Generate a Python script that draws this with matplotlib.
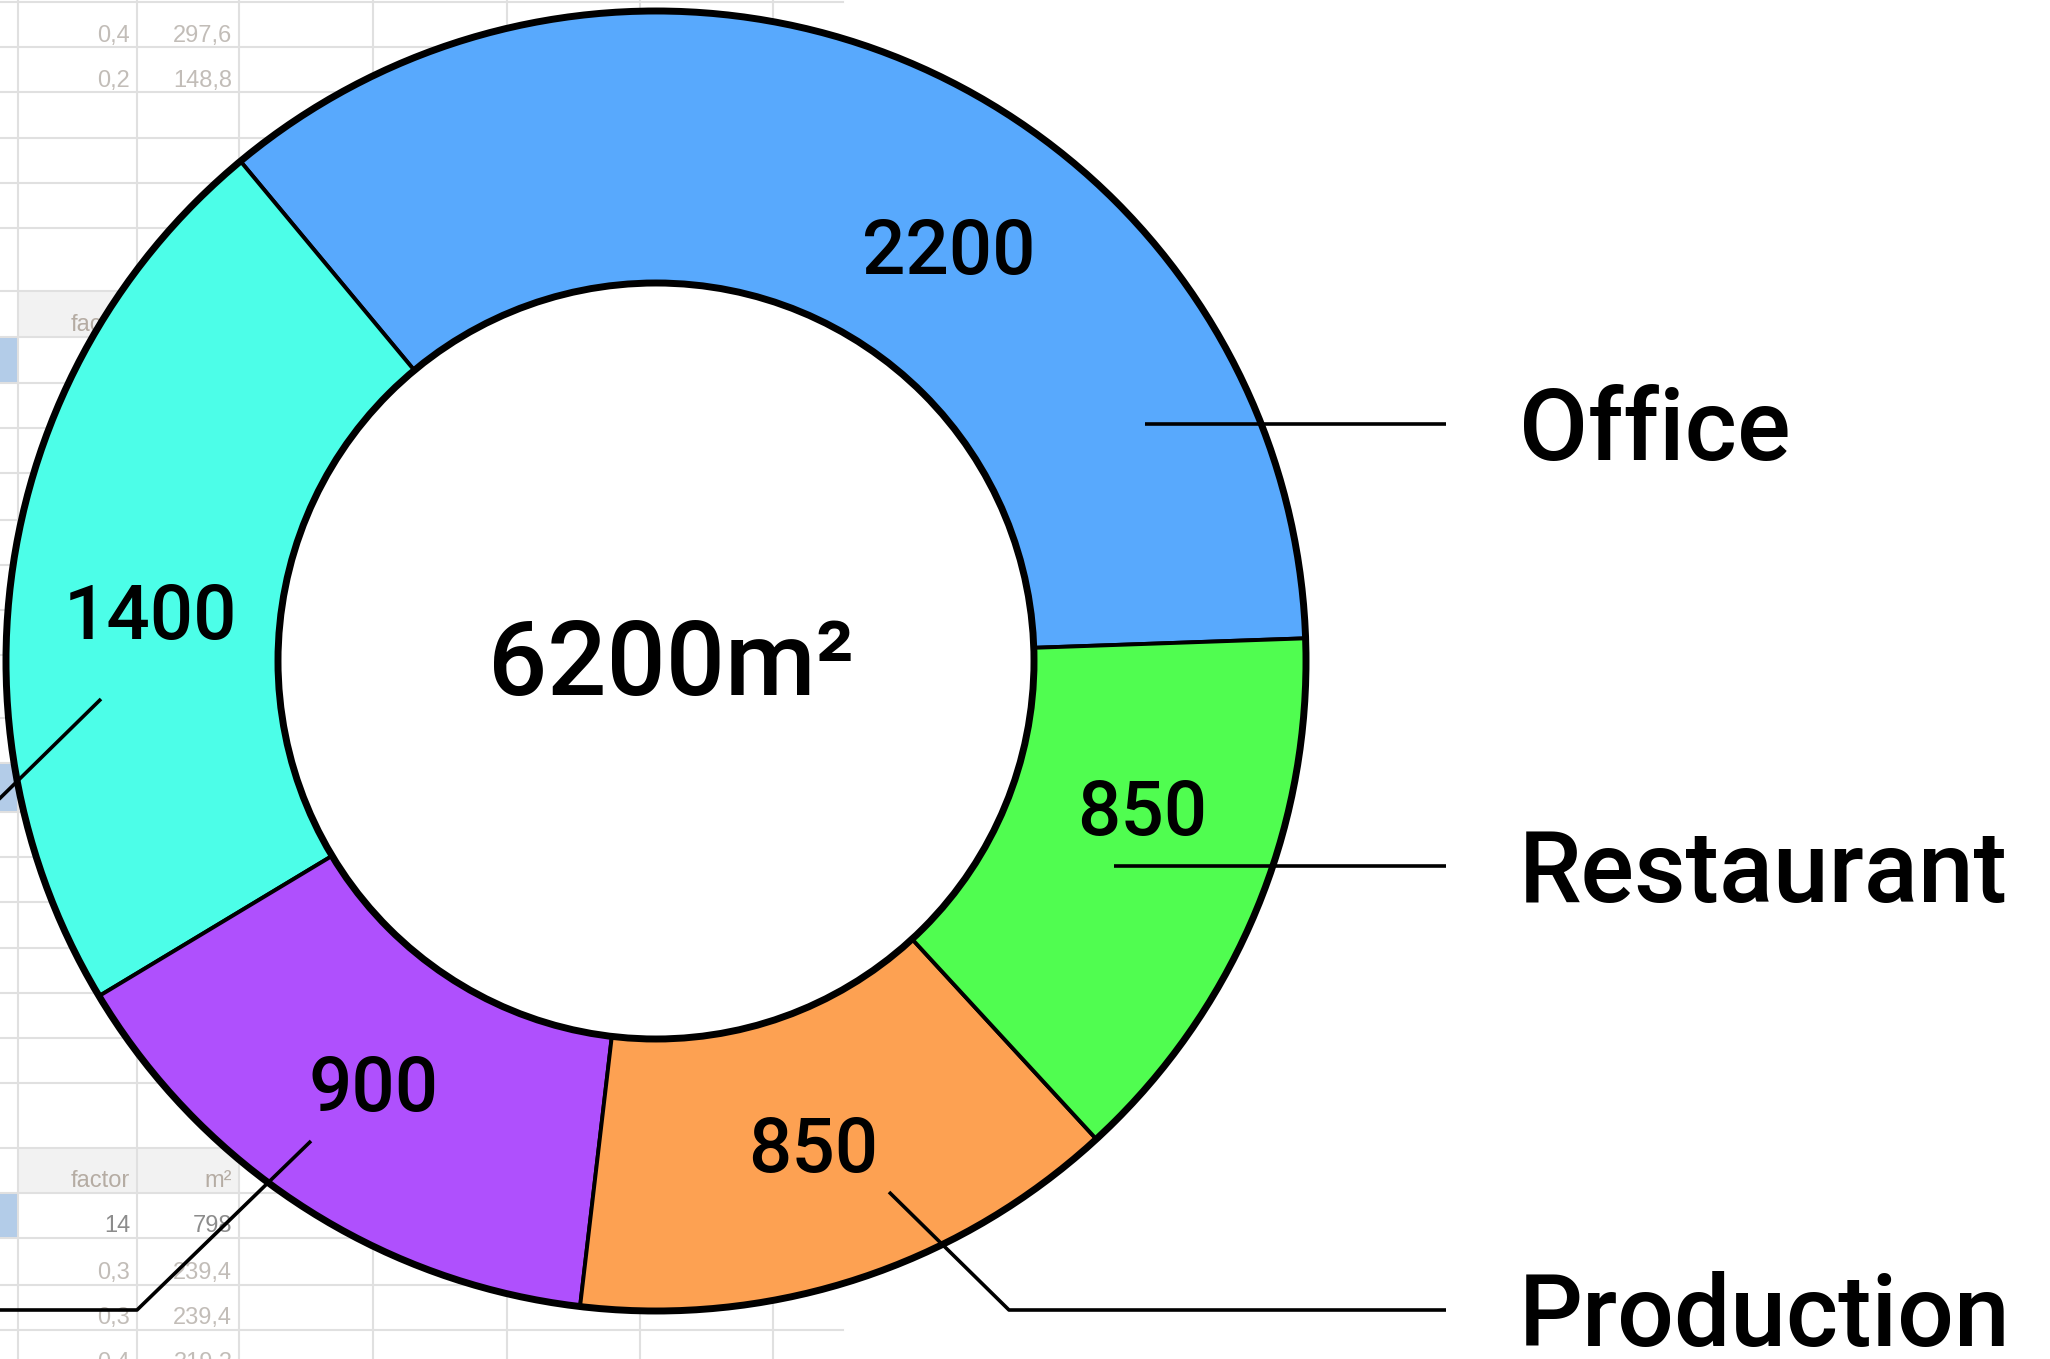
import numpy as np
import matplotlib.pyplot as plt
from matplotlib.patches import Circle, Rectangle

plt.rcParams['font.family'] = 'Roboto'

W, H = 2050, 1359

# floor areas in m², counter-clockwise from the right
areas = [2200, 1400, 900, 850, 850]
names = ['Office', None, None, 'Production', 'Restaurant']
colours = ['#58a9fd', '#4cfee8', '#af50fd', '#fda152', '#50fd50']

# spreadsheet cells sitting behind the chart
top_factor = ['0,4', '0,2']
top_m2 = ['297,6', '148,8']
bottom_header = ['factor', 'm²']
bottom_factor = ['14', '0,3', '0,3', '0,4']
bottom_m2 = ['798', '239,4', '239,4', '319,2']

row_lines = [2, 47, 92, 138, 183, 228, 291, 337, 383, 428, 473, 520, 565, 610,
             655, 718, 763, 812, 857, 902, 948, 993, 1038, 1083, 1148, 1193,
             1238, 1285, 1330, 1375]
col_lines = [18, 137, 239, 373, 507, 640, 773]
sheet_right = 843
header_tops = [291, 718, 1148]
blue_tops = [337, 763, 1193]

# donut geometry (pixels, y pointing down)
cx, cy = 656, 661
R_out, R_in = 650, 378
label_r = 508
label_shift = [11, -4, 1, 0, -6]

fig = plt.figure(figsize=(W / 100, H / 100), dpi=100)
ax = fig.add_axes([0, 0, 1, 1])

# --- spreadsheet background ---
for y0 in header_tops:
    nxt = row_lines[row_lines.index(y0) + 1]
    ax.add_patch(Rectangle((18, y0), 239 - 18, nxt - y0, fc='#f2f2f2', ec='none', zorder=0))
for y0 in blue_tops:
    nxt = row_lines[row_lines.index(y0) + 1]
    ax.add_patch(Rectangle((0, y0), 18, nxt - y0, fc='#b3cce8', ec='none', zorder=0))
for y in row_lines:
    ax.plot([0, sheet_right], [y, y], color='#e0e0e0', lw=1.5, zorder=0.5)
for x in col_lines:
    ax.plot([x, x], [0, H], color='#e0e0e0', lw=1.5, zorder=0.5)

sheet_font = dict(family=['Liberation Sans Narrow', 'Liberation Sans'], fontsize=17,
                  ha='right', va='baseline', zorder=1)
for i, (f, m) in enumerate(zip(top_factor, top_m2)):
    base = row_lines[i + 1] - 5
    ax.text(130, base, f, color='#c2bdb8', **sheet_font)
    ax.text(232, base, m, color='#c2bdb8', **sheet_font)
for y0 in header_tops:
    base = row_lines[row_lines.index(y0) + 1] - 6
    ax.text(130, base, bottom_header[0], color='#b5aca3', **sheet_font)
    ax.text(232, base, bottom_header[1], color='#b5aca3', **sheet_font)
start = row_lines.index(1193)
for i, (f, m) in enumerate(zip(bottom_factor, bottom_m2)):
    base = row_lines[start + i + 1] - 6
    c = '#8c8c8c' if i == 0 else '#c2bdb8'
    ax.text(130, base, f, color=c, **sheet_font)
    ax.text(232, base, m, color=c, **sheet_font)

# --- donut ---
wedges, _ = ax.pie(areas, colors=colours, radius=R_out, center=(cx, cy),
                   startangle=-2, counterclock=False,
                   wedgeprops=dict(width=R_out - R_in, edgecolor='black', linewidth=2.8))
for w in wedges:
    w.set_zorder(2)
ax.add_patch(Circle((cx, cy), R_in, fc='white', ec='black', lw=5.0, zorder=3))
ax.add_patch(Circle((cx, cy), R_out, fill=False, ec='black', lw=5.0, zorder=3))

for w, val, shift in zip(wedges, areas, label_shift):
    mid = np.deg2rad((w.theta1 + w.theta2) / 2 + shift)
    lx = cx + label_r * np.cos(mid)
    ly = cy + label_r * np.sin(mid)
    ax.text(lx, ly + 28, str(val), fontsize=55, fontweight='medium',
            ha='center', va='baseline', zorder=5)

ax.text(cx + 15, 695, f'{sum(areas)}m²', fontsize=75, fontweight='medium',
        ha='center', va='baseline', zorder=5)

# --- leader lines and names ---
leaders = [
    [(1145, 424), (1446, 424)],
    [(101, 699), (-10, 808)],
    [(311, 1141), (137, 1310), (-10, 1310)],
    [(889, 1192), (1009, 1310), (1446, 1310)],
    [(1114, 866), (1446, 866)],
]
for name, pts in zip(names, leaders):
    xs, ys = zip(*pts)
    ax.plot(xs, ys, color='black', lw=2.6, solid_capstyle='butt', zorder=4)
    if name is not None:
        ax.text(1519, pts[-1][1] + 36, name, fontsize=72, fontweight='medium',
                ha='left', va='baseline', zorder=5)

ax.set_xlim(0, W)
ax.set_ylim(H, 0)
ax.set_aspect('equal')
ax.axis('off')

plt.savefig('out.png', dpi=100, facecolor='white')
